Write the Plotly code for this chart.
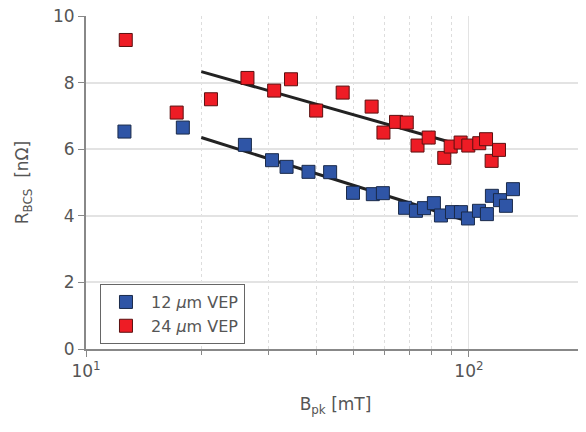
import plotly.graph_objects as go

# Data
blue_x = [12.6, 17.9, 26.0, 30.6, 33.4, 38.1, 43.4, 49.8, 56.1, 59.6, 68.1, 72.7, 76.3, 81.0,
          84.5, 90.3, 95.3, 99.4, 106.2, 111.4, 114.8, 120.5, 124.9, 130.3]
blue_y = [6.53, 6.65, 6.13, 5.67, 5.47, 5.32, 5.31, 4.69, 4.65, 4.68, 4.24, 4.15, 4.23, 4.38,
          4.01, 4.11, 4.11, 3.92, 4.15, 4.05, 4.60, 4.47, 4.30, 4.80]

red_x = [12.7, 17.25, 21.2, 26.4, 31.0, 34.3, 39.9, 46.8, 55.7, 59.8, 64.5, 68.8, 73.4, 78.5,
         86.2, 89.6, 95.1, 99.6, 106.4, 110.8, 114.6, 119.8]
red_y = [9.28, 7.10, 7.50, 8.14, 7.76, 8.10, 7.16, 7.70, 7.28, 6.50, 6.82, 6.80, 6.11, 6.35,
         5.74, 6.08, 6.20, 6.11, 6.18, 6.30, 5.65, 5.98]

fit_x = [20, 100]
fit_blue = [6.35, 3.83]
fit_red = [8.33, 6.05]

x_tickvals = [10, 100]
x_ticktext = ["10<sup>1</sup>", "10<sup>2</sup>"]
x_minor = [20, 30, 40, 50, 60, 70, 80, 90]
y_tickvals = [0, 2, 4, 6, 8, 10]

FONT = "DejaVu Sans"
TXT = "#555555"

fig = go.Figure()
fig.add_trace(go.Scatter(x=fit_x, y=fit_blue, mode="lines", line=dict(color="#222222", width=3),
                         showlegend=False, hoverinfo="skip"))
fig.add_trace(go.Scatter(x=fit_x, y=fit_red, mode="lines", line=dict(color="#222222", width=3),
                         showlegend=False, hoverinfo="skip"))
fig.add_trace(go.Scatter(x=blue_x, y=blue_y, mode="markers", name="12 <i>μ</i>m VEP",
                         marker=dict(symbol="square", size=13, color="#2f55a6",
                                     line=dict(color="#1a2a4a", width=1))))
fig.add_trace(go.Scatter(x=red_x, y=red_y, mode="markers", name="24 <i>μ</i>m VEP",
                         marker=dict(symbol="square", size=13, color="#ee1c25",
                                     line=dict(color="#5a1010", width=1))))

fig.update_layout(
    width=578, height=424,
    margin=dict(l=78, r=1, t=8, b=83, autoexpand=False),
    paper_bgcolor="white", plot_bgcolor="white",
    font=dict(family=FONT, color=TXT, size=15),
    legend=dict(x=0.028, y=0.195, xanchor="left", yanchor="top",
                bordercolor="#666666", borderwidth=1, bgcolor="white",
                font=dict(size=16, color=TXT), itemwidth=40, tracegroupgap=0),
)
fig.update_xaxes(
    type="log", range=[1, 2.303], automargin=False, ticklabeloverflow="allow",
    tickvals=x_tickvals, ticktext=x_ticktext,
    ticks="outside", ticklen=6, tickcolor="#888888",
    showline=True, linecolor="#888888", linewidth=2,
    showgrid=True, gridcolor="#e3e3e3", gridwidth=1,
    zeroline=False,
    tickfont=dict(size=17, color=TXT),
    minor=dict(tickvals=x_minor, ticks="outside", ticklen=4, tickcolor="#888888",
               showgrid=True, gridcolor="#dddddd", griddash="dot", gridwidth=1),
    title=dict(text="B<sub>pk</sub> [mT]", font=dict(size=17, color=TXT), standoff=18),
)
fig.update_yaxes(
    range=[0, 10], tickvals=y_tickvals, automargin=False, ticklabeloverflow="allow",
    ticks="outside", ticklen=6, tickcolor="#888888",
    showline=True, linecolor="#888888", linewidth=2,
    showgrid=True, gridcolor="#e3e3e3", gridwidth=1.5,
    zeroline=False,
    tickfont=dict(size=17, color=TXT),
    title=dict(text="R<sub>BCS</sub>  [nΩ]", font=dict(size=17, color=TXT), standoff=20),
)

fig.write_html("out.html")
